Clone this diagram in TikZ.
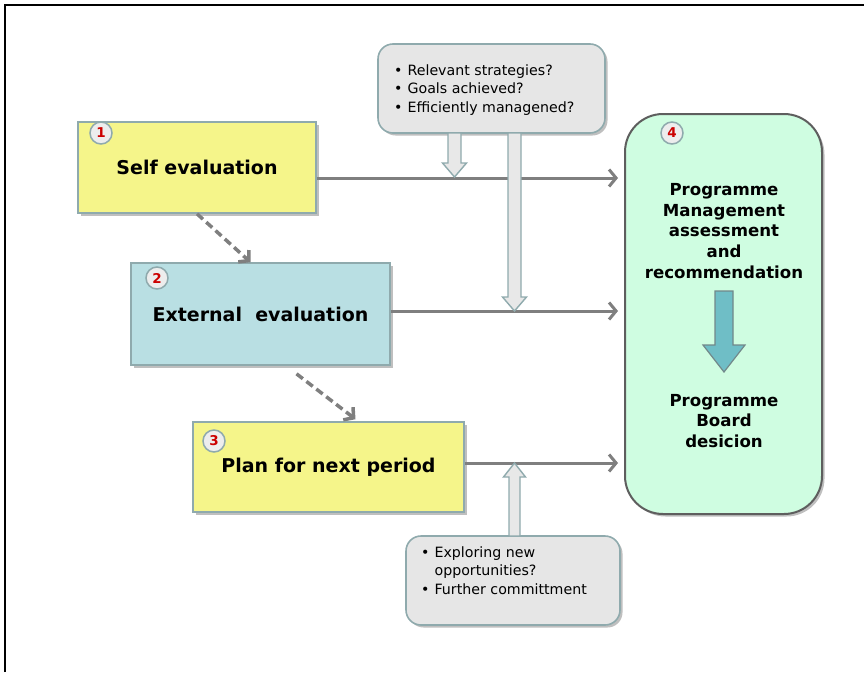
\documentclass[tikz,border=0pt]{standalone}
\usepackage{fontspec}
\setmainfont{DejaVu Sans}
\usetikzlibrary{arrows.meta,shadows}

\definecolor{edgeteal}{HTML}{8FAAAD}
\definecolor{selffill}{HTML}{F5F58A}
\definecolor{extfill}{HTML}{B9DFE3}
\definecolor{boardfill}{HTML}{CFFDE1}
\definecolor{notefill}{HTML}{E6E6E6}
\definecolor{flowgray}{HTML}{7F7F7F}
\definecolor{numred}{HTML}{CC0000}
\definecolor{downfill}{HTML}{6FBEC6}
\definecolor{boardedge}{HTML}{5E5E5E}

\tikzset{
  softshadow/.style={drop shadow={shadow xshift=2.5pt,shadow yshift=-2.5pt,fill=black,opacity=0.25}},
  stagebox/.style={draw=edgeteal,line width=1.6pt,softshadow,inner sep=0pt,
    font=\fontsize{19}{23}\selectfont\bfseries},
  numbadge/.style={circle,draw=edgeteal,line width=1.5pt,fill=white!93!black,
    minimum size=22pt,inner sep=0pt,text=numred,font=\fontsize{13.5}{15}\selectfont\bfseries},
  notebox/.style={draw=edgeteal,line width=1.6pt,fill=notefill,rounded corners=15pt,softshadow},
  flow/.style={draw=flowgray,line width=3pt,-{Straight Barb[length=7pt,width=17pt]}},
  dashflow/.style={draw=flowgray,line width=3.5pt,dash pattern=on 8pt off 4.5pt,
    -{Straight Barb[length=7pt,width=16pt]}},
  hollow/.style={draw=edgeteal,line width=1.4pt,fill=white!91!black,line join=miter},
  boardtext/.style={align=center,font=\fontsize{16.6}{20.7}\selectfont\bfseries},
  notetext/.style={anchor=west,inner sep=0pt,font=\fontsize{14.2}{18.5}\selectfont}
}

% vertical block arrow: centre x, start y, tip y, head start y, shaft half width, head half width
\newcommand\blockarrow[6]{%
  \draw[hollow] ({#1-#5},#2) -- ({#1-#5},#4) -- ({#1-#6},#4) -- (#1,#3)
    -- ({#1+#6},#4) -- ({#1+#5},#4) -- ({#1+#5},#2) -- cycle;}

\begin{document}
\begin{tikzpicture}[x=1pt,y=-1pt]
\useasboundingbox (0,0) rectangle (864,672);
\draw[line width=2.5pt] (5,672) -- (5,5) -- (866,5);

% process stages
\node[stagebox,fill=selffill,minimum width=238pt,minimum height=91pt] (self) at (197,167.5) {Self evaluation};
\node[stagebox,fill=extfill,minimum width=259pt,minimum height=102pt] (ext) at (260.5,314) {External\ \ evaluation};
\node[stagebox,fill=selffill,minimum width=271pt,minimum height=90pt] (plan) at (328.5,467) {Plan for next period};

% programme board
\node[draw=boardedge,line width=2pt,fill=boardfill,rounded corners=38pt,softshadow,
      minimum width=197pt,minimum height=400pt] (board) at (723.5,314) {};
\node[boardtext] (mgmt) at (724,231) {Programme\\Management\\assessment\\and\\recommendation};
\node[boardtext] (decision) at (724,421) {Programme\\Board\\desicion};
\draw[draw=edgeteal!80!black,line width=1.2pt,fill=downfill]
  (715,291) -- (715,345) -- (703,345) -- (724,372) -- (745,345) -- (733,345) -- (733,291) -- cycle;

% number badges
\node[numbadge] (n1) at (101,133) {1};
\node[numbadge] (n2) at (157,278) {2};
\node[numbadge] (n3) at (214,441) {3};
\node[numbadge] (n4) at (672,133) {4};

% question boxes
\node[notebox,minimum width=227pt,minimum height=89pt] (qtop) at (491.5,88.5) {};
\node[notetext] (qtoptxt) at (394,90) {\begin{tabular}{@{}l@{\hspace{5pt}}l@{}}
  \textbullet & Relevant strategies?\\
  \textbullet & Goals achieved?\\
  \textbullet & Efficiently managened?\end{tabular}};
\node[notebox,minimum width=214pt,minimum height=89pt] (qbot) at (513,580.5) {};
\node[notetext] (qbottxt) at (421,572) {\begin{tabular}{@{}l@{\hspace{5pt}}l@{}}
  \textbullet & Exploring new\\
              & opportunities?\\
  \textbullet & Further committment\end{tabular}};

% flows into the board
\coordinate (in1) at (618,178);
\coordinate (in2) at (618,311);
\coordinate (in3) at (618,463);
\draw[flow] (self.east |- in1) -- (in1);
\draw[flow] (ext.east |- in2) -- (in2);
\draw[flow] (plan.east |- in3) -- (in3);

% sequence between stages
\draw[dashflow] (self.south) -- ([xshift=-10pt]ext.north);
\draw[dashflow] ([xshift=36pt,yshift=-8pt]ext.south) -- ([xshift=27pt,yshift=2pt]plan.north);

% question arrows
\blockarrow{454.5}{133}{177}{163}{6.5}{12}
\blockarrow{514.5}{133}{311}{297}{6.5}{12}
\blockarrow{514.5}{536}{463}{477}{5.5}{11}
\end{tikzpicture}
\end{document}
